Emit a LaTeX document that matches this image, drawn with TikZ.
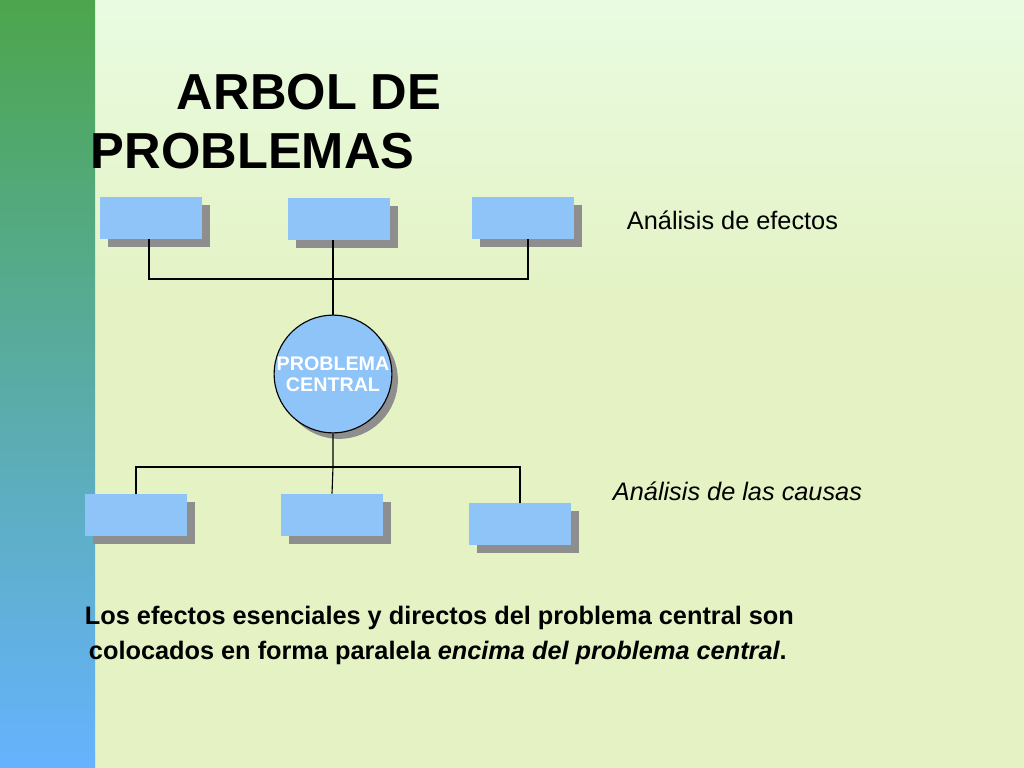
\documentclass[tikz,border=0pt]{standalone}
\usepackage{fontspec}
\setmainfont{Liberation Sans}
\usetikzlibrary{positioning, calc, shadows}
\definecolor{boxblue}{HTML}{8FC4F8}
\definecolor{bggreen}{HTML}{E4F2C4}
\definecolor{shadowgray}{HTML}{8E8E8E}
\tikzset{
  effbox/.style={fill=boxblue, minimum width=2.55cm, minimum height=1.05cm, inner sep=0pt,
    drop shadow={shadow xshift=0.2cm, shadow yshift=-0.2cm, fill=shadowgray, opacity=1}},
  centre/.style={circle, draw=black, thick, fill=boxblue, minimum size=2.9cm, inner sep=0pt,
    text=white, font=\fontsize{14}{15}\selectfont\bfseries, align=center,
    drop shadow={shadow xshift=0.15cm, shadow yshift=-0.15cm, fill=shadowgray, opacity=1}},
  link/.style={thick, black}
}
\begin{document}
\begin{tikzpicture}[x=0.025cm, y=-0.025cm]
      % background
      \fill[bggreen] (0,0) rectangle (1024,768);
      \shade[top color=bggreen!80!green!30, bottom color=bggreen] (95,0) rectangle (1024,300);
      \shade[top color=green!50!black!70, bottom color=cyan!50!blue!60] (0,0) rectangle (95,768);
      \useasboundingbox (0,0) rectangle (1024,768);

      % title
      \node[anchor=west, font=\fontsize{36}{42}\selectfont\bfseries, align=left] (title) at (86,122)
        {\hspace*{2.15cm}ARBOL DE\\PROBLEMAS};

      % effects
      \node[effbox] (e1) at (151,218) {};
      \node[effbox] (e2) at (339,219) {};
      \node[effbox] (e3) at (523,218) {};
      \node[anchor=west, font=\fontsize{18}{20}\selectfont] (efectos) at (622,220) {Análisis de efectos};

      % central problem
      \node[centre] (pc) at (333,374) {PROBLEMA\\CENTRAL};

      % causes
      \node[effbox] (c1) at (136,515) {};
      \node[effbox] (c2) at (332,515) {};
      \node[effbox] (c3) at (520,524) {};
      \node[anchor=west, font=\fontsize{18}{20}\selectfont\itshape] (causas) at (608,491) {Análisis de las causas};

      % connectors above
      \coordinate (top) at (333,279);
      \draw[link] (e1.south -| 149,0) |- (top) -| (e3.south -| 528,0);
      \draw[link] (e2.south -| top) -- (top) -- (pc.north);
      % connectors below
      \coordinate (bot) at (333,467);
      \draw[link] (c1.north) |- (bot) -| (c3.north);
      \draw[link] (pc.south) -- (bot) -- (c2.north);

      % note
      \node[anchor=north west, align=left, font=\fontsize{18}{25}\selectfont\bfseries] (nota) at (80,601)
        {Los efectos esenciales y directos del problema central son\\
         \hspace*{0.1cm}colocados en forma paralela \textit{encima del problema central}.};
\end{tikzpicture}
\end{document}
